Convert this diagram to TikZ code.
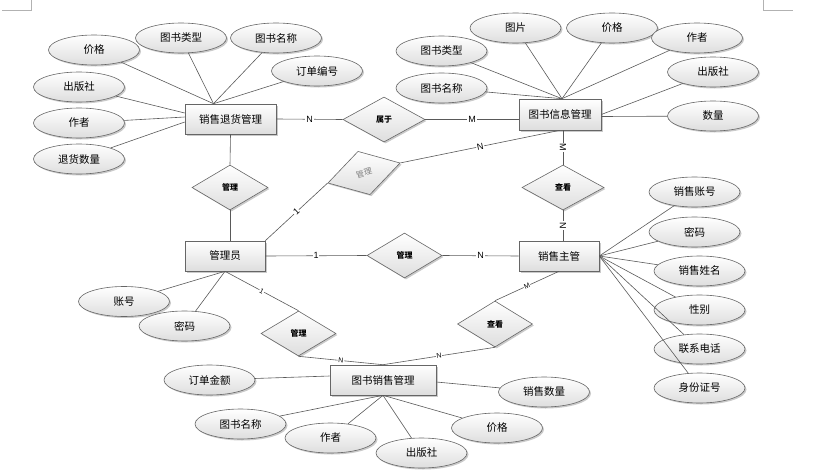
\documentclass[tikz,border=0pt]{standalone}
\usepackage{fontspec}
\setmainfont{Noto Sans CJK SC}
\newfontfamily\labfont{Liberation Sans}
\usetikzlibrary{shapes.geometric,shadows,calc}
\begin{document}
\begin{tikzpicture}[x=1pt,y=-1pt,
  base/.style={draw=black!60, line width=0.6pt, top color=white, bottom color=black!13,
    drop shadow={shadow xshift=1.5pt,shadow yshift=-1.5pt,fill=black!35,opacity=0.6},
    font=\fontsize{10.5}{12}\selectfont, inner sep=0pt},
  ent/.style={base, rectangle, minimum height=30pt},
  attr/.style={base, ellipse, minimum width=91pt, minimum height=30pt},
  rel/.style={base, diamond, minimum width=75pt, minimum height=45pt, aspect=1.67,
    font=\fontsize{8}{9}\selectfont\bfseries},
  conn/.style={draw=black!65, line width=0.6pt},
  lab/.style={fill=white, inner sep=0.8pt, font=\labfont\fontsize{9}{10}\selectfont},
  slab/.style={fill=white, inner sep=0.6pt, font=\labfont\fontsize{7}{8}\selectfont, sloped},
  cornermark/.style={draw=black!30, line width=0.6pt},
]
\useasboundingbox (0,0) rectangle (814,471);
% corner marks
\draw[cornermark] (2,10) -- (31,10) -- (31,0);
\draw[cornermark] (763,0) -- (763,10) -- (793,10);

% entities
\node[ent, minimum width=91pt] (r1) at (230.5,119) {销售退货管理};
\node[ent, minimum width=82pt, minimum height=31pt] (r2) at (560,114.5) {图书信息管理};
\node[ent, minimum width=80pt] (r3) at (225,256) {管理员};
\node[ent, minimum width=80pt] (r4) at (559,256) {销售主管};
\node[ent, minimum width=106pt] (r5) at (383,380) {图书销售管理};

% relations
\node[rel, minimum width=82pt, aspect=1.82] (d1) at (384,119.5) {属于};
\node[rel, minimum width=76pt] (d2) at (230,187.5) {管理};
\node[rel, minimum width=82pt, aspect=1.82] (d3) at (563,187.5) {查看};
\node[rel] (d4) at (404.5,255.5) {管理};
\node[rel, rotate=15.5, text=black!50, font=\fontsize{8}{9}\selectfont] (d5) at (364,173) {管理};
\node[rel] (d6) at (298.5,333.5) {管理};
\node[rel, minimum height=46pt] (d7) at (495,324) {查看};

% attributes of r1
\node[attr] (a1) at (94,50) {价格};
\node[attr] (a2) at (181,38) {图书类型};
\node[attr] (a3) at (276,38) {图书名称};
\node[attr] (a4) at (317,71) {订单编号};
\node[attr] (a5) at (79,87) {出版社};
\node[attr] (a6) at (79,123) {作者};
\node[attr] (a7) at (79,159) {退货数量};
% attributes of r2
\node[attr] (b1) at (515.5,28) {图片};
\node[attr] (b2) at (612,28) {价格};
\node[attr] (b3) at (697,38) {作者};
\node[attr] (b4) at (441.5,51) {图书类型};
\node[attr] (b5) at (441.5,88) {图书名称};
\node[attr] (b6) at (713,72) {出版社};
\node[attr] (b7) at (713,116) {数量};
% attributes of r4
\node[attr] (c1) at (694.5,192) {销售账号};
\node[attr] (c2) at (694.5,232) {密码};
\node[attr] (c3) at (699.5,271) {销售姓名};
\node[attr] (c4) at (699.5,310) {性别};
\node[attr] (c5) at (699.5,349) {联系电话};
\node[attr] (c6) at (699.5,388) {身份证号};
% attributes of r3
\node[attr] (e1) at (124,301.5) {账号};
\node[attr] (e2) at (184.5,326) {密码};
% attributes of r5
\node[attr] (f1) at (209.5,380) {订单金额};
\node[attr] (f2) at (544,392) {销售数量};
\node[attr] (f3) at (240.5,424) {图书名称};
\node[attr] (f4) at (330.5,438) {作者};
\node[attr] (f5) at (421.5,453) {出版社};
\node[attr] (f6) at (497,428) {价格};

% helper points
\coordinate (r1t) at ($(r1.north)+(-17,0)$);
\coordinate (r2t) at ($(r2.north)+(2,0)$);

% attribute connectors
\foreach \a in {a1,a2,a3,a4} \draw[conn] (\a) -- (r1t);
\draw[conn] (a5) -- ($(r1.west)+(0,-6)$);
\draw[conn] (a6) -- ($(r1.west)+(0,-2)$);
\draw[conn] (a7) -- ($(r1.west)+(0,3)$);
\foreach \a in {b1,b2,b3,b4,b5} \draw[conn] (\a) -- (r2t);
\draw[conn] (b6) -- (r2.east);
\draw[conn] (b7) -- ($(r2.east)+(0,2)$);
\foreach \a in {c1,c2,c3,c4,c5,c6} \draw[conn] (\a) -- (r4.east);
\foreach \a in {e1,e2} \draw[conn] (\a) -- (r3.south);
\draw[conn] (f1) -- ($(r5.west)+(0,-4)$);
\draw[conn] (f2) -- ($(r5.east)+(0,2)$);
\foreach \a in {f3,f4,f5,f6} \draw[conn] (\a) -- (r5.south);

% relationship connectors
\draw[conn] (r1.east) -- node[lab]{N} (d1.west);
\draw[conn] (d1.east) -- node[lab]{M} (d1.east -| r2.west);
\draw[conn] (r1.south) -- (d2.north);
\draw[conn] (d2.south) -- (d2.south |- r3.north);
\draw[conn] (r3.east) -- node[lab]{1} (d4.west);
\draw[conn] (d4.east) -- node[lab]{N} (r4.west);
\draw[conn] (r3.north east) -- node[lab, sloped]{1} (d5.west);
\draw[conn] (d5.east) -- node[lab, sloped]{N} (r2.south);
\draw[conn] (r2.south -| d3.north) -- node[lab, sloped]{M} (d3.north);
\draw[conn] (d3.south) -- node[lab, sloped]{N} (d3.south |- r4.north);
\draw[conn] (r3.south) -- node[slab]{1} (d6.north);
\draw[conn] (d6.south) -- node[slab]{N} (r5.north);
\draw[conn] (d7.south) -- node[slab]{N} (r5.north);
\draw[conn] (r4.south) -- node[slab]{M} (d7.north);
\end{tikzpicture}
\end{document}
